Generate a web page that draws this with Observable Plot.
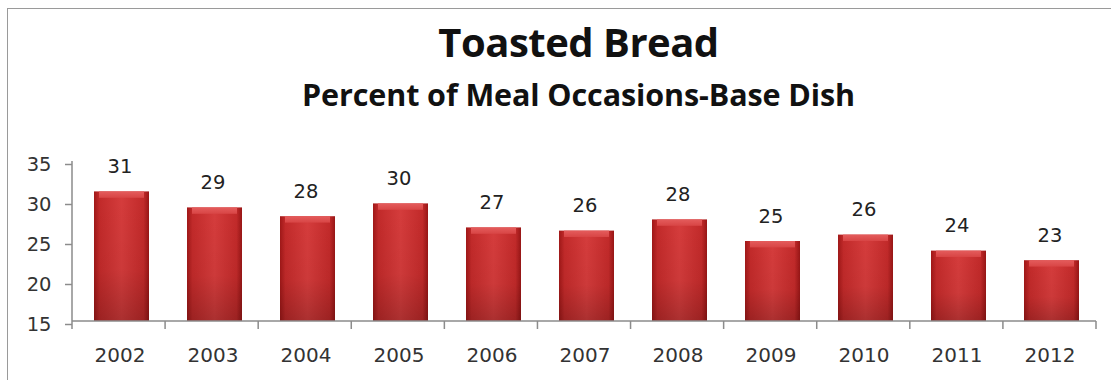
<!DOCTYPE html>
<html>
<head>
<meta charset="utf-8">
<script src="https://cdn.jsdelivr.net/npm/d3@7"></script>
<script src="https://cdn.jsdelivr.net/npm/@observablehq/plot@0.6"></script>
<style>
  html, body { margin: 0; padding: 0; background: #fff; }
  #wrap { position: relative; width: 1111px; height: 380px; overflow: hidden; background: #fff; }
  #border { position: absolute; left: 7px; top: 8px; width: 1120px; height: 420px; border-top: 1.5px solid #9a9a9a; border-left: 1.5px solid #9a9a9a; box-sizing: border-box; }
  #title { position: absolute; left: 0; width: 1111px; top: 16px; text-align: center; font-family: 'Open Sans', sans-serif; font-weight: bold; font-size: 40px; color: #111; line-height: 52px; padding-left: 46px; box-sizing: border-box; letter-spacing: -0.5px; }
  #subtitle { position: absolute; left: 0; width: 1111px; top: 75px; text-align: center; font-family: 'Open Sans', sans-serif; font-weight: bold; font-size: 30.5px; color: #111; line-height: 38px; padding-left: 46px; box-sizing: border-box; letter-spacing: -0.1px; }
  #chart { position: absolute; left: 0; top: 130px; }
</style>
</head>
<body>
<div id="wrap">
  <div id="border"></div>
  <div id="title">Toasted Bread</div>
  <div id="subtitle">Percent of Meal Occasions-Base Dish</div>
  <div id="chart"></div>
</div>
<script>
const years = ["2002","2003","2004","2005","2006","2007","2008","2009","2010","2011","2012"];
const values = [31.2, 29.2, 28.1, 29.7, 26.7, 26.3, 27.7, 25.0, 25.8, 23.8, 22.6];
const yTicks = [15, 20, 25, 30, 35];

const data = years.map((year, i) => ({year, value: values[i]}));
const axisColor = "#8c8c8c";
const labelFont = "'DejaVu Sans', sans-serif";

function gradients() {
  const ns = "http://www.w3.org/2000/svg";
  const defs = document.createElementNS(ns, "defs");
  defs.innerHTML = `
    <linearGradient id="barH" x1="0" x2="1" y1="0" y2="0">
      <stop offset="0" stop-color="#a01818"/>
      <stop offset="0.1" stop-color="#c22a2a"/>
      <stop offset="0.5" stop-color="#d53c3c"/>
      <stop offset="0.9" stop-color="#c22a2a"/>
      <stop offset="1" stop-color="#981616"/>
    </linearGradient>
    <linearGradient id="barV" x1="0" x2="0" y1="0" y2="1">
      <stop offset="0" stop-color="#000" stop-opacity="0"/>
      <stop offset="0.6" stop-color="#000" stop-opacity="0.04"/>
      <stop offset="1" stop-color="#000" stop-opacity="0.2"/>
    </linearGradient>
    <linearGradient id="barTop" x1="0" x2="0" y1="0" y2="1">
      <stop offset="0" stop-color="#e45c5c"/>
      <stop offset="1" stop-color="#d84545"/>
    </linearGradient>`;
  return defs;
}

function axisLines(index, scales, values, dims) {
  const ns = "http://www.w3.org/2000/svg";
  const g = document.createElementNS(ns, "g");
  const {width, height, marginLeft, marginRight, marginTop, marginBottom} = dims;
  const x0 = marginLeft, x1 = width - marginRight, yb = height - marginBottom;
  const step = (x1 - x0) / years.length;
  let d = `M${x0},${marginTop}V${yb}H${x1}`;
  for (let i = 0; i <= years.length; i++) {
    const xx = x0 + i * step;
    d += `M${xx},${yb}v8`;
  }
  const p = document.createElementNS(ns, "path");
  p.setAttribute("d", d);
  p.setAttribute("stroke", axisColor);
  p.setAttribute("stroke-width", "1.5");
  p.setAttribute("fill", "none");
  g.appendChild(p);
  return g;
}

const chart = Plot.plot({
  width: 1111,
  height: 250,
  marginLeft: 72,
  marginRight: 15,
  marginTop: 31,
  marginBottom: 59,
  style: {fontFamily: labelFont, fontSize: "19px", color: "#333", background: "transparent", overflow: "visible"},
  x: {domain: years, paddingInner: 0.41, paddingOuter: 0.205, label: null},
  y: {domain: [15, 35], label: null},
  marks: [
    gradients,
    Plot.barY(data, {x: "year", y1: 15, y2: "value", fill: "url(#barH)", dx: 2}),
    Plot.barY(data, {x: "year", y1: 15, y2: "value", fill: "url(#barV)", dx: 2}),
    Plot.rectY(data, {x: "year", y1: d => d.value - 0.8, y2: "value", fill: "url(#barTop)", dx: 2, insetLeft: 5, insetRight: 5}),
    Plot.text(data, {x: "year", y: "value", text: d => String(Math.round(d.value)), dy: -25, fontSize: 19.5, fill: "#222", fontFamily: labelFont}),
    Plot.axisY({ticks: yTicks, tickSize: 7, tickPadding: 14, stroke: axisColor, strokeWidth: 1.5, fill: "#333", fontSize: 19.5, dy: 3}),
    Plot.axisX({tickSize: 0, tickPadding: 26, fill: "#333", fontSize: 20}),
    axisLines
  ]
});
document.getElementById("chart").appendChild(chart);
</script>
</body>
</html>
